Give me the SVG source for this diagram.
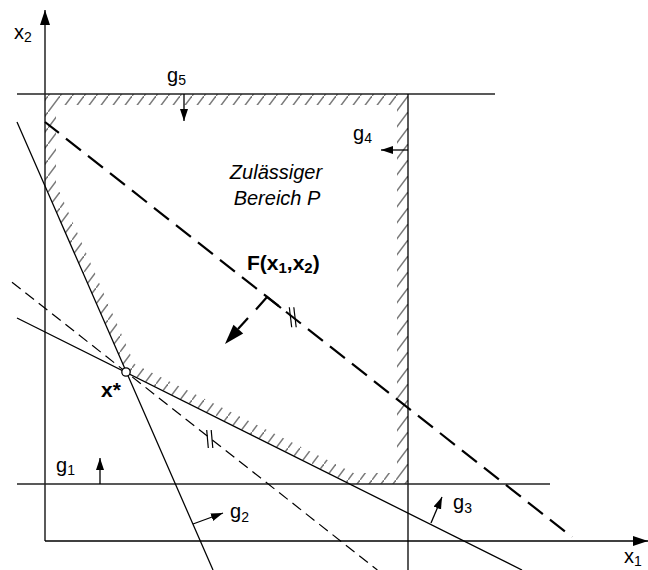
<svg xmlns="http://www.w3.org/2000/svg" width="648" height="570" viewBox="0 0 648 570">
<style>
.ln{stroke:#000;stroke-width:1.3;fill:none}
.hl{stroke:#222;stroke-width:1.4;fill:none}
.dbig{stroke:#000;stroke-width:2.2;fill:none;stroke-dasharray:19 9;stroke-dashoffset:1.3}
.dsm{stroke:#000;stroke-width:1.2;fill:none;stroke-dasharray:11 6}
.tk{stroke:#000;stroke-width:1.2;fill:none}
.arr{stroke:#000;stroke-width:1.3;fill:none;marker-end:url(#ah)}
text{font-family:"Liberation Sans",Arial,sans-serif;fill:#000}
.lbl{font-size:20px}
.sub{font-size:14px}
.bf{font-size:21px;font-weight:bold}
.bs{font-size:15px;font-weight:bold}
.it{font-size:20px;font-style:italic}
</style>
<defs>
<marker id="ah" markerUnits="userSpaceOnUse" markerWidth="13" markerHeight="9" refX="12" refY="4" orient="auto">
<path d="M0,0 L12,4 L0,8 Z" fill="#000"/>
</marker>
<marker id="axh" markerUnits="userSpaceOnUse" markerWidth="16" markerHeight="11" refX="15" refY="5" orient="auto">
<path d="M0,0 L15,5 L0,10 Z" fill="#000"/>
</marker>
<pattern id="hatch" patternUnits="userSpaceOnUse" width="12" height="16">
<path d="M-3,20 L15,-4" stroke="#7a7a7a" stroke-width="1.5"/>
</pattern>
<clipPath id="band">
<path clip-rule="evenodd" d="M45,94 L408,94 L408,484 L351,484 L126,372 L45,186 Z M56,105 L397,105 L397,473 L353.6,473 L134.5,363.9 L56,183.7 Z"/>
</clipPath>
</defs>

<g id="hatching">
<rect x="40" y="90" width="372" height="398" fill="url(#hatch)" clip-path="url(#band)"/>
</g>

<g id="axes">
<line class="ln" x1="45" y1="541" x2="45" y2="10" marker-end="url(#axh)"/>
<line class="ln" x1="45" y1="541" x2="648" y2="541" marker-end="url(#axh)"/>
<text class="lbl" x="14" y="39">x<tspan class="sub" dy="3">2</tspan></text>
<text class="lbl" x="624" y="563">x<tspan class="sub" dy="3">1</tspan></text>
</g>

<g id="connectors">
<line id="g5-line" class="hl" x1="17" y1="94" x2="495" y2="94"/>
<line id="g4-line" class="ln" x1="408" y1="94" x2="408" y2="570"/>
<line id="g1-line" class="hl" x1="17" y1="484" x2="550" y2="484"/>
<line id="g2-line" class="ln" x1="17" y1="122" x2="213" y2="570"/>
<line id="g3-line" class="ln" x1="17" y1="318" x2="522" y2="570"/>
<line id="F-line" class="dbig" x1="45" y1="122" x2="572" y2="537"/>
<line id="F-opt-line" class="dsm" x1="12" y1="282.2" x2="377.4" y2="570"/>
<polyline class="tk" points="256,309.5 267,297 281,308" style="stroke-width:2.2"/>
<line class="tk" x1="248" y1="318" x2="238" y2="329" style="stroke-width:2.2"/>
<polygon points="225,344 243.2,333.4 233.5,324.8" fill="#000"/>
<line class="tk" x1="289.3" y1="307.3" x2="291.7" y2="327.3"/>
<line class="tk" x1="293.8" y1="307.3" x2="296.2" y2="327.3"/>
<line class="tk" x1="206.7" y1="430" x2="208.3" y2="448"/>
<line class="tk" x1="211.2" y1="430" x2="212.8" y2="448"/>
<line class="arr" x1="184" y1="94" x2="184" y2="121"/>
<line class="arr" x1="408" y1="150" x2="381" y2="150"/>
<line class="arr" x1="100" y1="484" x2="100" y2="458"/>
<line class="arr" x1="193" y1="524" x2="223" y2="513"/>
<line class="arr" x1="431" y1="523" x2="442" y2="497"/>
</g>

<g id="g5"><text class="lbl" x="167" y="82">g<tspan class="sub" dy="3">5</tspan></text></g>
<g id="g4"><text class="lbl" x="353" y="140">g<tspan class="sub" dy="3">4</tspan></text></g>
<g id="g1"><text class="lbl" x="56" y="472">g<tspan class="sub" dy="3">1</tspan></text></g>
<g id="g2"><text class="lbl" x="230" y="518">g<tspan class="sub" dy="4">2</tspan></text></g>
<g id="g3"><text class="lbl" x="453" y="509">g<tspan class="sub" dy="4">3</tspan></text></g>

<g id="region-P">
<text class="it" x="276" y="179" text-anchor="middle">Zulässiger</text>
<text class="it" x="277" y="205" text-anchor="middle">Bereich P</text>
</g>

<g id="F">
<text class="bf" x="247" y="270">F(x<tspan class="bs" dy="3">1</tspan><tspan dy="-3">,x</tspan><tspan class="bs" dy="3">2</tspan><tspan dy="-3">)</tspan></text>
</g>

<g id="xstar">
<circle cx="126" cy="372" r="4.2" fill="#fff" stroke="#000" stroke-width="1.3"/>
<text class="bf" x="101" y="397">x*</text>
</g>
</svg>
